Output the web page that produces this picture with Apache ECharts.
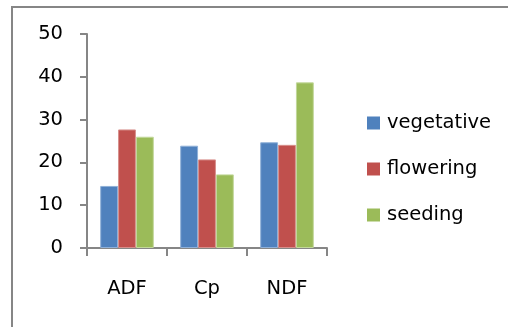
<!DOCTYPE html>
<html>
<head>
<meta charset="utf-8">
<script src="https://cdn.jsdelivr.net/npm/echarts@6/dist/echarts.min.js"></script>
<style>
html,body{margin:0;padding:0;background:#fff;}
#chart{width:508px;height:327px;}
</style>
</head>
<body>
<div id="chart"></div>
<script>
var categories = ['ADF', 'Cp', 'NDF'];
var seriesNames = ['vegetative', 'flowering', 'seeding'];
var vegetative = [14.5, 23.9, 24.7];
var flowering = [27.7, 20.7, 24.1];
var seeding = [26.0, 17.2, 38.7];
var yMin = 0, yMax = 50, yStep = 10;

var colors = ['#4F81BD', '#C0504D', '#9BBB59'];
var borders = ['#8FB0D8', '#D78F8C', '#C2D89B'];
var font = 'DejaVu Sans';
var fs = 19.5;

var chart = echarts.init(document.getElementById('chart'));
function bar(name, data, i) {
  return {
    name: name, type: 'bar', data: data,
    barGap: '0%', barCategoryGap: '33%',
    itemStyle: { color: colors[i], borderColor: borders[i], borderWidth: 1 }
  };
}
chart.setOption({
  animation: false,
  graphic: [{
    type: 'rect', shape: { x: 12, y: 7, width: 520, height: 340 },
    style: { fill: 'none', stroke: '#868686', lineWidth: 2 }, z: 0
  }],
  grid: { left: 87, right: 181, top: 34, bottom: 79 },
  legend: {
    orient: 'vertical', left: 367, top: 113, padding: 0,
    itemWidth: 13, itemHeight: 13, itemGap: 26,
    icon: 'rect',
    itemStyle: { borderWidth: 0 },
    textStyle: { fontFamily: font, fontSize: fs, color: '#000', lineHeight: 19, padding: [0, 0, 0, 2] },
    data: seriesNames
  },
  xAxis: {
    type: 'category', data: categories,
    axisLine: { lineStyle: { color: '#868686', width: 2 } },
    axisTick: { show: true, length: 8, lineStyle: { color: '#868686', width: 2 } },
    axisLabel: { fontFamily: font, fontSize: fs, color: '#000', margin: 31 }
  },
  yAxis: {
    type: 'value', min: yMin, max: yMax, interval: yStep,
    splitLine: { show: false },
    axisLine: { show: true, lineStyle: { color: '#868686', width: 2 } },
    axisTick: { show: true, length: 7, lineStyle: { color: '#868686', width: 2 } },
    axisLabel: { fontFamily: font, fontSize: fs, color: '#000', margin: 24 }
  },
  series: [bar(seriesNames[0], vegetative, 0), bar(seriesNames[1], flowering, 1), bar(seriesNames[2], seeding, 2)]
});
</script>
</body>
</html>
